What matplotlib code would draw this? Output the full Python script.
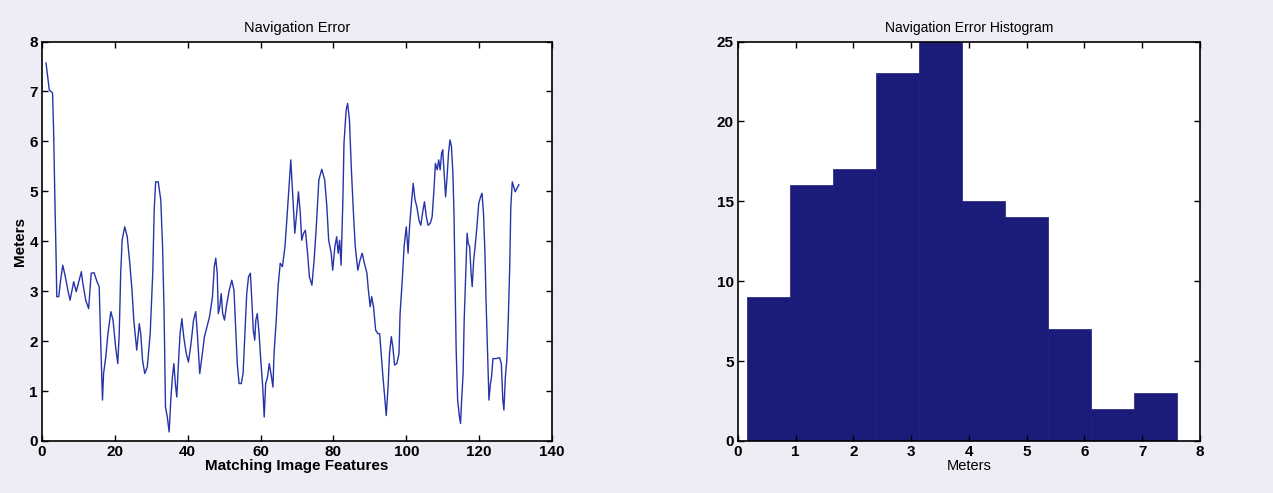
import numpy as np
import matplotlib
matplotlib.use('Agg')
import matplotlib.pyplot as plt

plt.rcParams['font.family'] = ['Liberation Sans', 'DejaVu Sans']

# navigation error per matched image feature
feat_x = [1.1, 2.0, 2.9, 3.2, 3.5, 3.9, 4.05, 4.6, 5.1, 5.7, 6.4, 7.1, 7.7, 8.7, 9.4, 10.0,
          10.8, 11.2, 12.0, 12.8, 13.5, 14.3, 15.1, 15.7, 16.1, 16.6, 16.9, 17.5, 18.1, 18.9,
          19.5, 20.2, 20.8, 21.2, 21.6, 22.0, 22.7, 23.4, 24.1, 24.7, 25.2, 26.0, 26.7, 27.1,
          27.6, 28.2, 28.9, 29.7, 30.4, 30.8, 31.2, 31.9, 32.6, 33.1, 33.5, 33.9, 34.4, 34.9,
          35.4, 35.8, 36.2, 36.6, 37.0, 37.5, 37.9, 38.4, 38.9, 39.6, 40.2, 40.9, 41.6, 42.2,
          42.7, 43.3, 43.9, 44.6, 45.3, 46.0, 46.8, 47.3, 47.7, 48.1, 48.4, 48.8, 49.2, 49.6,
          50.1, 50.6, 51.4, 52.1, 52.7, 53.1, 53.6, 54.1, 54.7, 55.2, 55.7, 56.2, 56.7, 57.2,
          57.6, 58.0, 58.4, 58.7, 59.1, 59.6, 60.0, 60.6, 61.0, 61.4, 61.9, 62.4, 63.0, 63.4,
          63.7, 64.3, 64.8, 65.4, 66.0, 66.7, 67.2, 67.8, 68.3, 68.7, 69.1, 69.4, 70.0, 70.4,
          70.9, 71.3, 71.8, 72.3, 72.9, 73.4, 74.1, 74.7, 75.3, 76.0, 76.8, 77.6, 78.2, 78.7,
          79.4, 79.8, 80.4, 80.9, 81.3, 81.7, 82.1, 82.6, 82.9, 83.5, 83.9, 84.4, 84.9, 85.5,
          86.0, 86.7, 87.3, 87.9, 88.5, 89.2, 89.6, 90.1, 90.5, 91.0, 91.6, 92.2, 92.7, 93.1,
          93.6, 94.0, 94.5, 95.0, 95.4, 95.9, 96.3, 96.8, 97.4, 98.0, 98.3, 98.9, 99.4, 100.0,
          100.5, 100.9, 101.5, 101.9, 102.4, 102.9, 103.5, 104.0, 104.6, 105.0, 105.5, 106.0,
          106.6, 107.1, 107.6, 108.0, 108.5, 108.9, 109.3, 109.7, 110.0, 110.4, 110.8, 111.2,
          111.6, 112.0, 112.4, 112.8, 113.1, 113.4, 113.7, 114.1, 114.6, 114.9, 115.2, 115.6,
          115.9, 116.3, 116.7, 117.0, 117.4, 117.8, 118.1, 118.5, 118.9, 119.4, 119.9, 120.4,
          120.8, 121.2, 121.6, 121.9, 122.3, 122.7, 123.1, 123.4, 123.8, 124.7, 125.6, 126.1,
          126.5, 126.8, 127.2, 127.6, 128.0, 128.4, 128.7, 129.1, 129.5, 129.9, 130.4, 130.9]
nav_err = [7.57, 7.03, 6.97, 6.16, 4.96, 3.56, 2.89, 2.89, 3.22, 3.52, 3.29, 3.02, 2.82, 3.19, 2.99, 3.16,
           3.39, 3.16, 2.82, 2.65, 3.36, 3.37, 3.19, 3.09, 2.02, 0.82, 1.35, 1.68, 2.15, 2.59,
           2.42, 1.89, 1.55, 2.15, 3.36, 4.02, 4.29, 4.09, 3.56, 3.02, 2.42, 1.82, 2.35, 2.15,
           1.62, 1.35, 1.48, 2.15, 3.36, 4.63, 5.19, 5.19, 4.83, 3.89, 2.62, 0.68, 0.48, 0.18,
           0.88, 1.28, 1.55, 1.15, 0.88, 1.62, 2.15, 2.45, 2.09, 1.75, 1.58, 1.95, 2.42, 2.59,
           2.09, 1.35, 1.68, 2.09, 2.29, 2.49, 2.89, 3.49, 3.66, 3.36, 2.55, 2.69, 2.95, 2.55,
           2.42, 2.69, 3.02, 3.22, 3.02, 2.35, 1.55, 1.15, 1.15, 1.35, 2.15, 2.95, 3.29, 3.36,
           2.82, 2.22, 2.02, 2.42, 2.55, 2.15, 1.68, 1.08, 0.48, 1.15, 1.28, 1.55, 1.28, 1.08,
           1.75, 2.42, 3.09, 3.56, 3.49, 3.89, 4.42, 5.09, 5.63, 5.09, 4.56, 4.16, 4.63, 4.99,
           4.56, 4.02, 4.16, 4.22, 3.76, 3.29, 3.12, 3.62, 4.29, 5.23, 5.44, 5.23, 4.69, 4.02,
           3.76, 3.42, 3.89, 4.09, 3.76, 4.02, 3.52, 4.83, 5.96, 6.63, 6.76, 6.43, 5.49, 4.56,
           3.89, 3.42, 3.62, 3.76, 3.56, 3.36, 3.02, 2.69, 2.89, 2.69, 2.22, 2.15, 2.15, 1.75,
           1.28, 0.95, 0.51, 1.08, 1.75, 2.09, 1.89, 1.52, 1.55, 1.75, 2.55, 3.22, 3.89, 4.29,
           3.76, 4.29, 4.83, 5.16, 4.83, 4.69, 4.42, 4.32, 4.63, 4.79, 4.49, 4.32,
           4.36, 4.49, 5.03, 5.56, 5.43, 5.63, 5.43, 5.76, 5.83, 5.36, 4.89, 5.29,
           5.76, 6.03, 5.90, 5.36, 4.56, 3.16, 1.82, 0.82, 0.48, 0.35, 0.82, 1.35,
           2.42, 3.29, 4.16, 3.96, 3.89, 3.36, 3.09, 3.62, 3.89, 4.29, 4.76, 4.89,
           4.96, 4.56, 3.76, 2.82, 1.82, 0.82, 1.15, 1.28, 1.65, 1.65, 1.67, 1.55,
           0.82, 0.62, 1.28, 1.62, 2.42, 3.49, 4.69, 5.19, 5.09, 4.99, 5.06, 5.13]

# histogram of the same errors: 10 bins between min and max
hist_lo = 0.16
hist_hi = 7.60
hist_counts = [9, 16, 17, 23, 25, 15, 14, 7, 2, 3]

bg = '#eeedf5'
line_col = '#2534a8'
bar_col = '#1b1c7a'

fig = plt.figure(figsize=(12.73, 4.93), dpi=100, facecolor=bg)
ax1 = fig.add_axes([0.033, 0.1055, 0.4006, 0.8103])
ax2 = fig.add_axes([0.5797, 0.1055, 0.3629, 0.8103])

ax1.plot(feat_x, nav_err, color=line_col, lw=1.0)
ax1.set_xlim(0, 140)
ax1.set_ylim(0, 8)
ax1.set_xticks(range(0, 141, 20))
ax1.set_yticks(range(0, 9))
ax1.set_title('Navigation Error', fontsize=10.5, pad=7)
ax1.set_xlabel('Matching Image Features', fontsize=11, fontweight='bold', labelpad=0)
ax1.set_ylabel('Meters', fontsize=11, fontweight='bold', labelpad=2)

edges = np.linspace(hist_lo, hist_hi, len(hist_counts) + 1)
ax2.bar(edges[:-1], hist_counts, width=np.diff(edges), align='edge', color=bar_col,
        edgecolor=bar_col, linewidth=0.5)
ax2.set_xlim(0, 8)
ax2.set_ylim(0, 25)
ax2.set_xticks(range(0, 9))
ax2.set_yticks(range(0, 26, 5))
ax2.set_title('Navigation Error Histogram', fontsize=10, pad=7)
ax2.set_xlabel('Meters', fontsize=10.5, labelpad=0)

for ax in (ax1, ax2):
    ax.set_facecolor('white')
    ax.tick_params(direction='in', top=True, right=True, length=4, width=1,
                   labelsize=11, pad=3)
    for lab in ax.get_xticklabels() + ax.get_yticklabels():
        lab.set_fontweight('bold')
    for sp in ax.spines.values():
        sp.set_linewidth(1.2)

fig.savefig('out.png', dpi=100, facecolor=bg)
